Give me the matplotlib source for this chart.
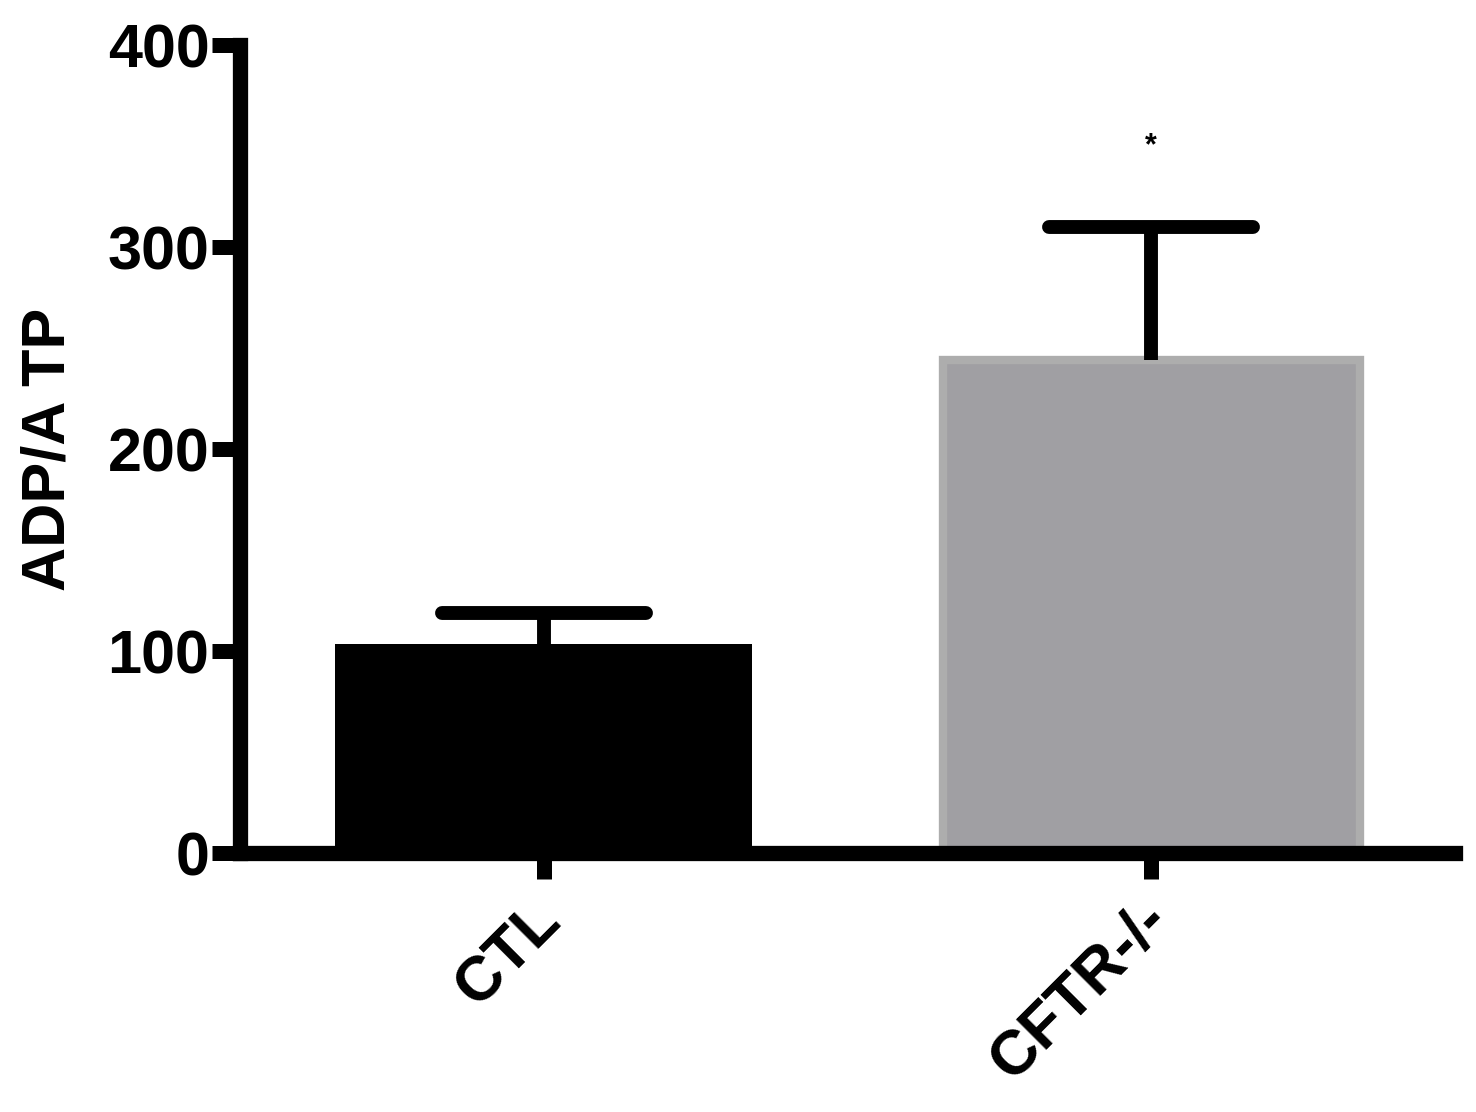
import numpy as np
import matplotlib.pyplot as plt
from matplotlib.transforms import ScaledTranslation

groups = ['CTL', 'CFTR-/-']
means = [103.5, 244]
sem = [15.5, 66]
yticks = [0, 100, 200, 300, 400]
star_y = 350

plt.rcParams['font.family'] = ['Liberation Sans', 'DejaVu Sans']
plt.rcParams['font.weight'] = 'bold'

fig = plt.figure(figsize=(14.76, 11.12), dpi=100)
ax = fig.add_axes([0.1626, 0.2329, 0.8232, 0.7266])

x = np.arange(len(groups))
tops = np.array(means) + np.array(sem)
ax.bar(x, means, width=0.687, color=['black', '#a09fa3'],
       edgecolor=['black', '#adadad'], linewidth=[0, 6], zorder=2)
# upper-only error bars
ax.vlines(x, means, tops, color='black', linewidth=10, zorder=3)
ax.hlines(tops, x - 0.168, x + 0.168, color='black', linewidth=10,
          capstyle='round', zorder=3)
ax.text(x[1], star_y, '*', ha='center', va='center', fontsize=22)

ax.set_xlim(-0.5, 1.5)
ax.set_ylim(0, 400)
ax.set_yticks(yticks)
ax.set_xticks(x)
ax.set_xticklabels(groups, rotation=45, ha='right', rotation_mode='anchor')
ax.set_ylabel('ADP/A TP', fontsize=44, fontweight='bold', labelpad=22)

for s in ['top', 'right']:
    ax.spines[s].set_visible(False)
for s in ['left', 'bottom']:
    ax.spines[s].set_linewidth(11)
    ax.spines[s].set_zorder(4)
    ax.spines[s].set_capstyle('projecting')

ax.tick_params(axis='y', direction='out', length=20, width=10.8,
               labelsize=44, pad=2)
ax.tick_params(axis='x', direction='out', length=19, width=10.8,
               labelsize=45, pad=8)
shift = ScaledTranslation(-13 / 100, 0, fig.dpi_scale_trans)
for lab in ax.get_xticklabels():
    lab.set_transform(lab.get_transform() + shift)
for lab in ax.get_yticklabels() + ax.get_xticklabels():
    lab.set_fontweight('bold')

fig.savefig('out.png', dpi=100, facecolor='white')
